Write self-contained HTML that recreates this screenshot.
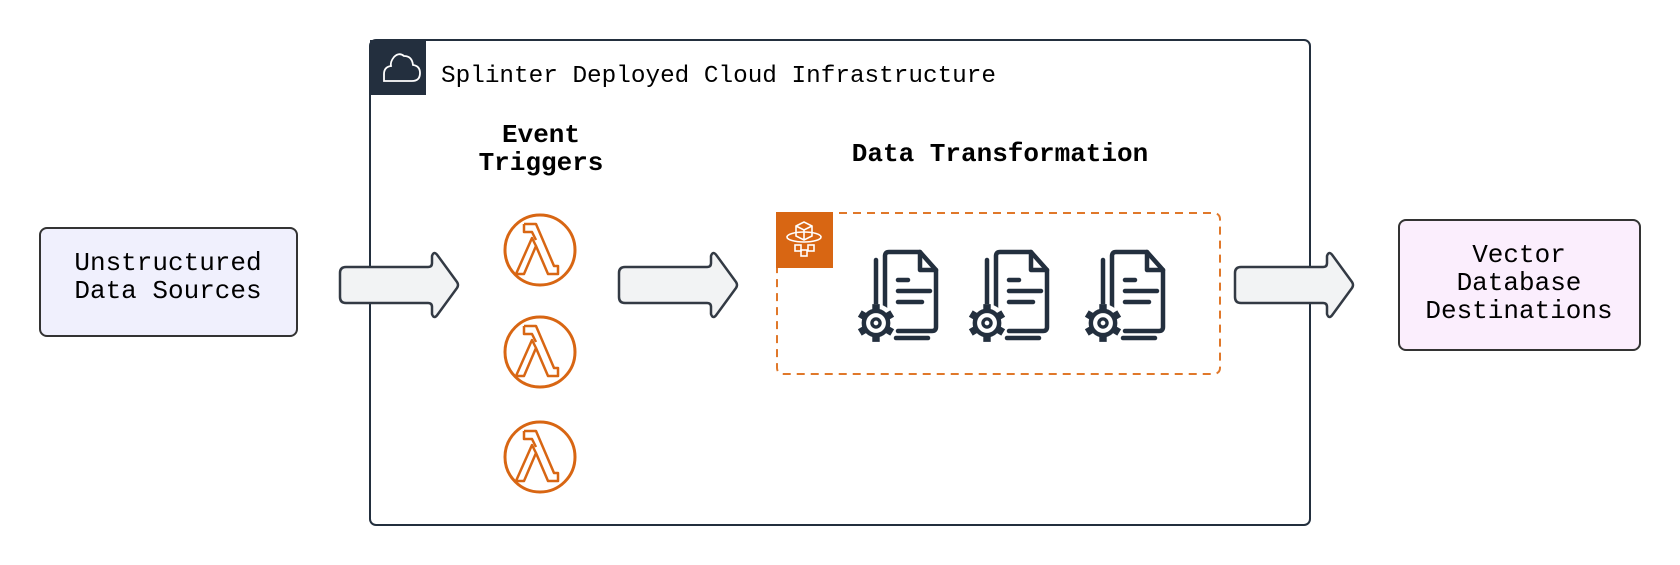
<!DOCTYPE html>
<html><head><meta charset="utf-8"><style>
html,body{margin:0;padding:0;background:#fff;}
svg{display:block;}
text{font-family:"Liberation Mono",monospace;fill:#000;}
</style></head><body>
<svg width="1680" height="565" viewBox="0 0 1680 565" xmlns="http://www.w3.org/2000/svg">
<defs>
<g id="lam">
<circle cx="0" cy="0" r="35" fill="none" stroke="#d86613" stroke-width="3"/>
<path d="M-16,-26 H-4 L14,16 H18 V24 H8 L-4,-4 M-4,-4 L-16,24 H-24 L-8,-12 Z M-16,-26 V-18 H-8 L-4,-10" fill="none" stroke="#d86613" stroke-width="2.5" stroke-linejoin="round"/>
</g>
<g id="doc" fill="none" stroke="#232f3e" stroke-width="4.5" stroke-linecap="round" stroke-linejoin="round">
<path d="M-3,24 V-36 Q-3,-40 1,-40 H32 L48,-22 V35 Q48,39 44,39 H10"/>
<path d="M32,-40 V-22 H48"/>
<path d="M-12,-32 V20"/>
<path d="M8,46 H40"/>
<path d="M10,-12 H20 M10,-1 H42 M10,10 H34"/>
<g transform="translate(-12,31) scale(1.35)">
<circle cx="0" cy="0" r="14" fill="#fff" stroke="none"/>
<g stroke-width="5.5" stroke-linecap="butt">
<path d="M0,-14 V-8 M0,14 V8 M12,-7 L7,-4 M-12,7 L-7,4 M12,7 L7,4 M-12,-7 L-7,-4"/>
</g>
<circle cx="0" cy="0" r="9" stroke-width="3.3"/>
<circle cx="0" cy="0" r="3" stroke-width="2.5"/>
</g>
</g>
<g id="arr">
<path d="M6,13 H88 Q92,13 92,9 V2 Q94,-4 98,2 L117,28 Q119,31 117,34 L98,60 Q94,66 92,60 V53 Q92,49 88,49 H6 Q0,49 0,43 V19 Q0,13 6,13 Z" fill="#f2f3f4" stroke="#333a44" stroke-width="2.5" stroke-linejoin="round"/>
</g>
</defs>

<rect x="370" y="40" width="940" height="485" rx="6" fill="#fff" stroke="#232f3e" stroke-width="2"/>
<rect x="370" y="40" width="56" height="55" fill="#232f3e"/>
<path d="M384,81 H412 Q420,81 420,73 Q420,66 413,65 Q412,56 404,56 Q399,52 394,57 Q390,62 391,66 Q384,67 384,74 Q384,81 384,81 Z" fill="none" stroke="#fff" stroke-width="1.8"/>
<text x="441" y="82" font-size="24" textLength="555" lengthAdjust="spacingAndGlyphs">Splinter Deployed Cloud Infrastructure</text>

<text x="541" y="142" font-size="26" font-weight="bold" text-anchor="middle">Event</text>
<text x="541" y="170" font-size="26" font-weight="bold" text-anchor="middle">Triggers</text>
<text x="1000" y="161" font-size="26" font-weight="bold" text-anchor="middle">Data Transformation</text>

<rect x="40" y="228" width="257" height="108" rx="7" fill="#f0f0fd" stroke="#333" stroke-width="2"/>
<text x="168" y="270" font-size="26" text-anchor="middle">Unstructured</text>
<text x="168" y="298" font-size="26" text-anchor="middle">Data Sources</text>

<rect x="1399" y="220" width="241" height="130" rx="7" fill="#fbeefd" stroke="#333" stroke-width="2"/>
<text x="1519" y="262" font-size="26" text-anchor="middle">Vector</text>
<text x="1519" y="290" font-size="26" text-anchor="middle">Database</text>
<text x="1519" y="318" font-size="26" text-anchor="middle">Destinations</text>

<use href="#arr" x="340" y="254"/>
<use href="#arr" x="619" y="254"/>
<use href="#arr" x="1235" y="254"/>

<use href="#lam" x="540" y="250"/>
<use href="#lam" x="540" y="352"/>
<use href="#lam" x="540" y="457"/>

<rect x="777" y="213" width="443" height="161" rx="6" fill="none" stroke="#e0782a" stroke-width="2" stroke-dasharray="8,6"/>
<rect x="776" y="212" width="57" height="56" fill="#d86613"/>
<g fill="none" stroke="#fff" stroke-width="1.6">
<path d="M796,226 L804,222 L812,226 V236 L804,240 L796,236 Z M796,226 L804,230 L812,226 M804,230 V240"/>
<ellipse cx="804" cy="237" rx="17" ry="5"/>
<rect x="795" y="245" width="6" height="6"/><rect x="808" y="245" width="6" height="6"/><rect x="801" y="250" width="6" height="6"/>
</g>

<use href="#doc" x="888" y="292"/>
<use href="#doc" x="999" y="292"/>
<use href="#doc" x="1115" y="292"/>
</svg>
</body></html>
